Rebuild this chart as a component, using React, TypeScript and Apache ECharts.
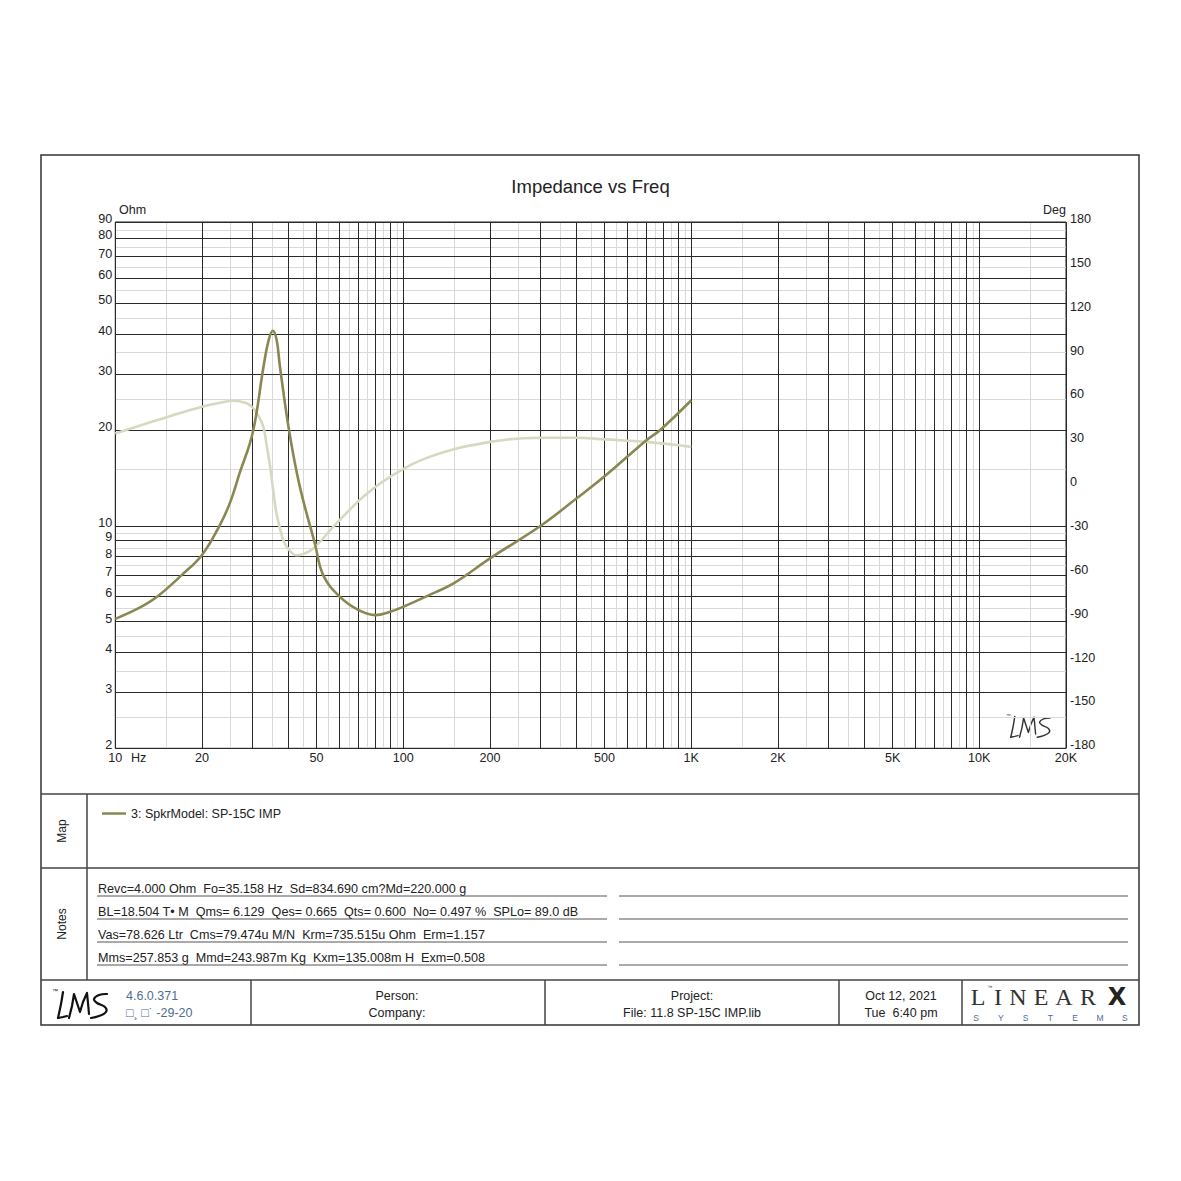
import React, { useEffect, useRef } from "react";
import * as echarts from "echarts";

// ---------- data ----------
const impFreq = [10, 12, 14, 17, 20, 23, 25, 27, 30, 32.7, 34, 35.2, 36.3, 37.3, 40.2, 43.7, 49.3, 52.7, 60, 70, 80, 90, 100, 125, 150, 200, 300, 400, 500, 700, 780, 1000];
const impOhm = [5.1, 5.5, 6.0, 7.0, 8.1, 10.0, 11.8, 14.6, 19.6, 31.6, 38.0, 41.0, 38.5, 31.6, 19.7, 13.3, 8.8, 7.0, 6.0, 5.43, 5.24, 5.37, 5.57, 6.1, 6.6, 7.9, 10.0, 12.2, 14.3, 18.6, 20.0, 24.8];

const phaseFreq = [10, 15, 20, 23.7, 25.7, 28.6, 30, 31.5, 32.7, 33.6, 34.5, 35.4, 36.3, 38.3, 40, 42.6, 45, 48.7, 58.6, 72.6, 90, 124, 200, 300, 400, 500, 700, 1000];
const phaseDeg = [35.4, 46.3, 53.6, 56.8, 57.7, 56, 53, 47, 39.5, 26.2, 12.5, -4.6, -19.4, -37.6, -44, -48, -47, -43.3, -26.2, -8, 5.7, 19.5, 29.6, 32.4, 32.4, 31.3, 29.6, 26.2];

const xTickValues = [10, 20, 50, 100, 200, 500, 1000, 2000, 5000, 10000, 20000];
const xTickLabels = ["10", "20", "50", "100", "200", "500", "1K", "2K", "5K", "10K", "20K"];
const yTickValues = [2, 3, 4, 5, 6, 7, 8, 9, 10, 20, 30, 40, 50, 60, 70, 80, 90];
const yTickLabels = ["2", "3", "4", "5", "6", "7", "8", "9", "10", "20", "30", "40", "50", "60", "70", "80", "90"];

const legendName = "3: SpkrModel: SP-15C IMP";
const notes = [
  "Revc=4.000 Ohm  Fo=35.158 Hz  Sd=834.690 cm?Md=220.000 g",
  "BL=18.504 T\u2022 M  Qms= 6.129  Qes= 0.665  Qts= 0.600  No= 0.497 %  SPLo= 89.0 dB",
  "Vas=78.626 Ltr  Cms=79.474u M/N  Krm=735.515u Ohm  Erm=1.157",
  "Mms=257.853 g  Mmd=243.987m Kg  Kxm=135.008m H  Exm=0.508",
];

const FONT = "'Liberation Sans', Arial, sans-serif";
const IMP_COLOR = "#8a8752";
const PHASE_COLOR = "#d8d8c2";

// grid line positions (1-2-...-9 decades for major, half-steps for minor)
const majorX: number[] = [];
const minorX: number[] = [];
for (let d = 10; d < 20000; d *= 10) {
  for (let k = 1; k <= 9; k++) {
    const v = k * d;
    if (v > 10 && v < 20000) majorX.push(v);
    const m = (k + 0.5) * d;
    if (m < 20000) minorX.push(m);
  }
}
const majorY: number[] = [];
const minorY: number[] = [];
for (let d = 1; d <= 10; d *= 10) {
  for (let k = 1; k <= 9; k++) {
    const v = k * d;
    if (v > 2 && v < 90) majorY.push(v);
    const m = (k + 0.5) * d;
    if (m > 2 && m < 90) minorY.push(m);
  }
}

const nb = (s: string) => s.replace(/  /g, " \u00a0");

function txt(x: number, y: number, text: string, o: any = {}) {
  const align = o.align || "left";
  return {
    type: "text",
    x,
    y,
    rotation: o.rot || 0,
    silent: true,
    z: 10,
    style: {
      text,
      fill: o.fill || "#222",
      fontSize: o.size || 12.5,
      fontFamily: o.family || FONT,
      fontWeight: o.weight || "normal",
      align,
      verticalAlign: "middle",
      textAlign: align,
      textVerticalAlign: "middle",
    },
  };
}
function ln(x1: number, y1: number, x2: number, y2: number, stroke = "#333", lw = 1) {
  return { type: "line", silent: true, z: 10, shape: { x1, y1, x2, y2 }, style: { stroke, lineWidth: lw } };
}
function lmsLogo(x: number, y: number, s: number, color: string, lw: number) {
  const st = { stroke: color, lineWidth: lw, fill: "none", lineCap: "round", lineJoin: "round" };
  return {
    type: "group",
    x,
    y,
    scaleX: s,
    scaleY: s,
    silent: true,
    z: 10,
    children: [
      { type: "polyline", shape: { points: [[11, 3], [9, 15], [6, 29]], smooth: 0.3 }, style: st },
      { type: "polyline", shape: { points: [[6, 29], [11, 28], [15, 27]] }, style: st },
      { type: "polyline", shape: { points: [[17, 29], [20, 17], [22, 5], [25, 14], [28, 23], [31, 13], [35, 4], [36, 14], [37, 25]] }, style: st },
      { type: "polyline", shape: { points: [[55, 5], [47, 6], [42, 10], [45, 14], [53, 18], [54, 23], [47, 27], [39, 29]], smooth: 0.4 }, style: st },
      { type: "text", x: 0, y: -1, style: { text: "\u2122", fontSize: 6, fill: color, fontFamily: FONT } },
    ],
  };
}

export default function App() {
  const ref = useRef<HTMLDivElement>(null);
  useEffect(() => {
    document.body.style.margin = "0";
    const chart = echarts.init(ref.current!, null, { renderer: "svg" });

    const labelStyle = { color: "#222", fontSize: 12.6, fontFamily: FONT };

    const majorXData = [10, ...majorX, 20000].map((v) => {
      const i = xTickValues.indexOf(v);
      return i >= 0
        ? { xAxis: v, label: { show: true, formatter: xTickLabels[i], position: "start", distance: 3, ...labelStyle } }
        : { xAxis: v, label: { show: false } };
    });
    const majorYData = [2, ...majorY, 90].map((v) => {
      const i = yTickValues.indexOf(v);
      return i >= 0
        ? { yAxis: v, label: { show: true, formatter: yTickLabels[i], position: "start", distance: 3, verticalAlign: "bottom", lineHeight: 6, ...labelStyle } }
        : { yAxis: v, label: { show: false } };
    });

    const graphics: any[] = [
      { type: "rect", silent: true, z: 10, shape: { x: 41, y: 155, width: 1098, height: 870 }, style: { fill: "none", stroke: "#333", lineWidth: 1.5 } },
      ln(41, 794, 1139, 794, "#444", 1.5),
      ln(41, 868, 1139, 868, "#444", 1.5),
      ln(41, 980, 1139, 980, "#444", 1.5),
      ln(87, 794, 87, 980, "#444", 1.5),
      ln(251, 980, 251, 1025, "#444", 1.5),
      ln(545, 980, 545, 1025, "#444", 1.5),
      ln(839, 980, 839, 1025, "#444", 1.5),
      ln(962, 980, 962, 1025, "#444", 1.5),
      txt(119, 210, "Ohm"),
      txt(1066, 210, "Deg", { align: "right" }),
      txt(131, 758, "Hz", { size: 12.6 }),
      txt(62, 831, "Map", { rot: Math.PI / 2, align: "center", size: 12 }),
      txt(62, 924, "Notes", { rot: Math.PI / 2, align: "center", size: 12 }),
      txt(126, 996, "4.6.0.371", { fill: "#4d6e92" }),
      txt(126, 1013, "\u25A1\u00b8 \u25A1\u02d9 -29-20", { fill: "#4d6e92" }),
      txt(397, 996, "Person:", { align: "center" }),
      txt(397, 1013, "Company:", { align: "center" }),
      txt(692, 996, "Project:", { align: "center" }),
      txt(692, 1013, "File: 11.8 SP-15C IMP.lib", { align: "center" }),
      txt(901, 996, "Oct 12, 2021", { align: "center" }),
      txt(901, 1013, "Tue \u00a06:40 pm", { align: "center" }),
      lmsLogo(52, 989, 1.0, "#111", 2.2),
      lmsLogo(1006, 714, 0.8, "#333", 1.8),
    ];
    notes.forEach((n, i) => {
      const y = 889 + i * 23;
      graphics.push(txt(98, y, nb(n), { size: 12.6, fill: "#222" }));
      graphics.push(ln(97, y + 7, 607, y + 7, "#555", 1));
      graphics.push(ln(619, y + 7, 1128, y + 7, "#555", 1));
    });
    // LINEARX logo
    const linear = ["L", "I", "N", "E", "A", "R"];
    const linX = [978, 998, 1018, 1041, 1064, 1088];
    linear.forEach((c, i) => graphics.push(txt(linX[i], 997, c, { align: "center", size: 24, family: "'Liberation Serif', 'DejaVu Serif', serif", fill: "#333" })));
    graphics.push(txt(990, 987, "\u2122", { align: "center", size: 5, fill: "#333" }));
    graphics.push(txt(1117, 997, "X", { align: "center", size: 24, weight: 900, family: "'DejaVu Sans', sans-serif", fill: "#222" }));
    const sys = ["S", "Y", "S", "T", "E", "M", "S"];
    sys.forEach((c, i) => graphics.push(txt(976 + i * 24.8, 1017.5, c, { align: "center", size: 8.5, fill: "#4d6e92" })));

    chart.setOption({
      animation: false,
      backgroundColor: "#fff",
      textStyle: { fontFamily: FONT },
      title: {
        text: "Impedance vs Freq",
        left: "center",
        top: 172,
        textStyle: { fontSize: 18.5, fontWeight: "normal", color: "#222", fontFamily: FONT },
      },
      legend: {
        data: [legendName],
        left: 97,
        top: 802,
        icon: "rect",
        itemWidth: 24,
        itemHeight: 2.5,
        itemGap: 5,
        selectedMode: false,
        textStyle: { fontSize: 12.5, color: "#222", fontFamily: FONT },
      },
      grid: { left: 115.3, top: 222, width: 950.7, height: 526.3, show: true, borderColor: "#222", borderWidth: 1, backgroundColor: "transparent" },
      xAxis: {
        type: "log",
        logBase: 10,
        min: 10,
        max: 20000,
        axisLabel: { show: false },
        axisLine: { show: false },
        axisTick: { show: false },
        splitLine: { show: false },
        minorSplitLine: { show: false },
      },
      yAxis: [
        {
          type: "log",
          logBase: 10,
          min: 2,
          max: 90,
          axisLabel: { show: false },
          axisLine: { show: false },
          axisTick: { show: false },
          splitLine: { show: false },
        },
        {
          type: "value",
          position: "right",
          min: -180,
          max: 180,
          interval: 30,
          axisLabel: { show: true, margin: 4, color: "#222", fontSize: 12.6, fontFamily: FONT, verticalAlign: "bottom", lineHeight: 6 },
          axisLine: { show: false },
          axisTick: { show: false },
          splitLine: { show: false },
        },
      ],
      series: [
        {
          name: "minorGrid",
          type: "line",
          data: [],
          z: 1,
          silent: true,
          markLine: {
            z: 1,
            silent: true,
            symbol: ["none", "none"],
            label: { show: false },
            lineStyle: { type: "solid", color: "#d9d9d9", width: 1 },
            data: [...minorX.map((v) => ({ xAxis: v })), ...minorY.map((v) => ({ yAxis: v }))],
          },
        },
        {
          name: "majorGrid",
          type: "line",
          data: [],
          z: 2,
          silent: true,
          markLine: {
            z: 2,
            silent: true,
            symbol: ["none", "none"],
            lineStyle: { type: "solid", color: "#2a2a2a", width: 1 },
            data: [...majorXData, ...majorYData],
          },
        },
        {
          name: "Phase",
          type: "line",
          yAxisIndex: 1,
          z: 6,
          showSymbol: false,
          smooth: 0.4,
          lineStyle: { color: PHASE_COLOR, width: 2.6 },
          itemStyle: { color: PHASE_COLOR },
          data: phaseFreq.map((f, i) => [f, phaseDeg[i]]),
        },
        {
          name: legendName,
          type: "line",
          yAxisIndex: 0,
          z: 7,
          showSymbol: false,
          smooth: 0.4,
          lineStyle: { color: IMP_COLOR, width: 2.6 },
          itemStyle: { color: IMP_COLOR },
          data: impFreq.map((f, i) => [f, impOhm[i]]),
        },
      ],
      graphic: { elements: graphics },
    });
    return () => chart.dispose();
  }, []);
  return <div ref={ref} style={{ position: "absolute", left: 0, top: 0, width: 1181, height: 1181, background: "#fff" }} />;
}
